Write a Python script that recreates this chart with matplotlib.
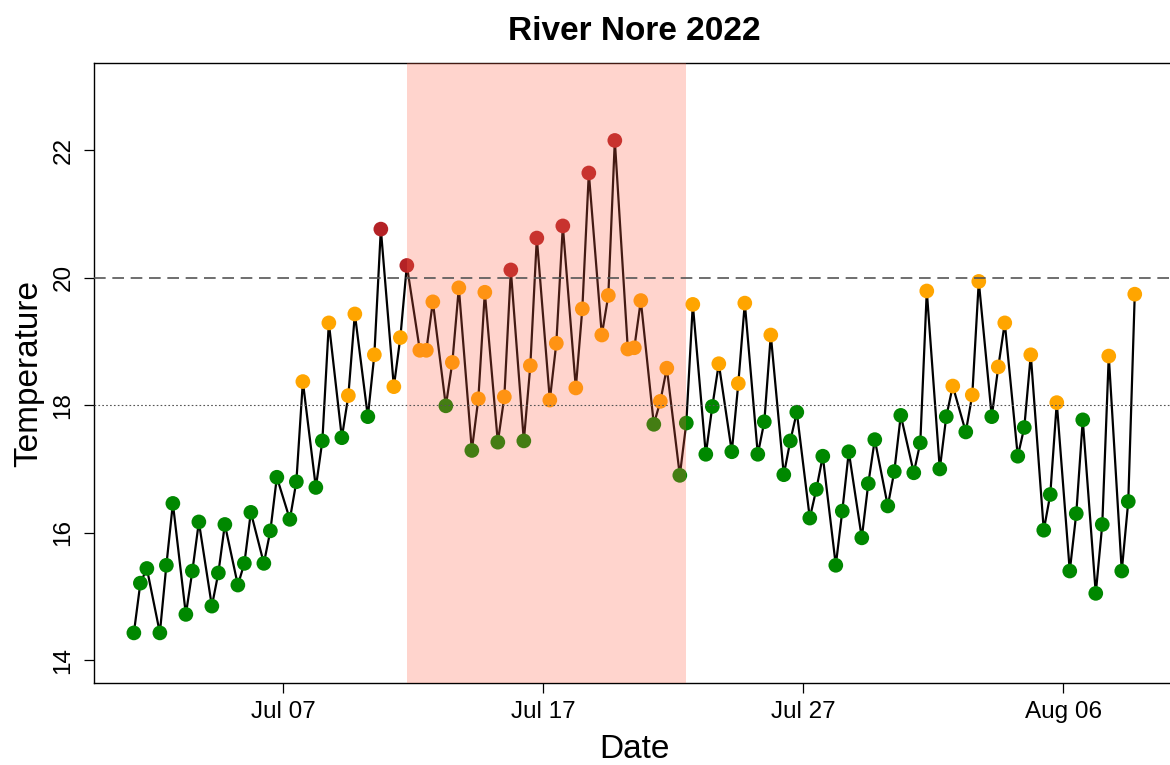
import numpy as np
import matplotlib
matplotlib.use("Agg")
import matplotlib.pyplot as plt
import matplotlib.dates as mdates

plt.rcParams['font.family'] = ['Liberation Sans', 'DejaVu Sans']

# three readings a day (06:00, 12:00, 18:00), 1 Jul - 8 Aug 2022
first_day = '2022-07-01'
last_day = '2022-08-09'
read_hours = [6, 12, 18]

temps = [
    14.43, 15.21, 15.44,  14.43, 15.49, 16.46,  14.72, 15.40, 16.17,
    14.85, 15.37, 16.13,  15.18, 15.52, 16.32,  15.52, 16.03, 16.87,
    16.21, 16.80, 18.37,  16.71, 17.44, 19.29,  17.49, 18.15, 19.43,
    17.82, 18.79, 20.76,  18.29, 19.06, 20.19,  18.86, 18.86, 19.62,
    17.99, 18.67, 19.84,  17.29, 18.10, 19.77,  17.42, 18.13, 20.12,
    17.44, 18.62, 20.62,  18.08, 18.97, 20.81,  18.27, 19.51, 21.64,
    19.10, 19.72, 22.15,  18.88, 18.90, 19.64,  17.70, 18.06, 18.58,
    16.90, 17.72, 19.58,  17.23, 17.98, 18.65,  17.27, 18.34, 19.60,
    17.23, 17.74, 19.10,  16.91, 17.44, 17.89,  16.23, 16.68, 17.20,
    15.49, 16.34, 17.27,  15.92, 16.77, 17.46,  16.42, 16.96, 17.84,
    16.94, 17.41, 19.79,  17.00, 17.82, 18.30,  17.58, 18.16, 19.94,
    17.82, 18.60, 19.29,  17.20, 17.65, 18.79,  16.04, 16.60, 18.04,
    15.40, 16.30, 17.77,  15.05, 16.13, 18.77,  15.40, 16.49, 19.74,
]

# heatwave window shaded on the plot
heat_start = '2022-07-11T18:00'
heat_end = '2022-07-22T12:00'

warn_level = 18
alert_level = 20
ylims = (14, 23)
xtick_days = ['2022-07-07', '2022-07-17', '2022-07-27', '2022-08-06']
ytick_vals = [14, 16, 18, 20, 22]

days = np.arange(first_day, last_day, dtype='datetime64[D]')
times = (days[:, None] + np.array(read_hours, dtype='timedelta64[h]')).ravel()
times = times.astype('datetime64[m]').astype(object)
temps = np.array(temps)

cols = np.where(temps > alert_level, '#B42226',
                np.where(temps >= warn_level, '#FFA500', '#008800'))

fig = plt.figure(figsize=(11.7, 7.65), dpi=100)
ax = fig.add_axes([0.0802, 0.1068, 0.9239, 0.8105])

ax.plot(times, temps, color='black', lw=1.6, zorder=2)
ax.scatter(times, temps, c=cols, s=112, linewidths=0, zorder=3)

ax.axvspan(np.datetime64(heat_start).astype(object), np.datetime64(heat_end).astype(object),
           color='#FF6347', alpha=0.27, lw=0, zorder=4)

ax.axhline(alert_level, color='#555555', lw=1.2, ls=(0, (7, 4)), zorder=5)
ax.axhline(warn_level, color='#555555', lw=0.8, ls=(0, (1.5, 2)), zorder=5)

# R-style 4% padding on both axes
t0 = mdates.date2num(times[0])
t1 = mdates.date2num(times[-1])
pad = 0.04 * (t1 - t0)
ax.set_xlim(t0 - pad, t1 + pad)
ypad = 0.04 * (ylims[1] - ylims[0])
ax.set_ylim(ylims[0] - ypad, ylims[1] + ypad)

ax.set_xticks([mdates.datestr2num(d) for d in xtick_days])
ax.xaxis.set_major_formatter(mdates.DateFormatter('%b %d'))
ax.set_yticks(ytick_vals)
ax.tick_params(axis='x', labelsize=17.5, length=7, width=0.9, pad=6)
ax.tick_params(axis='y', labelsize=17.5, length=7, width=0.9, pad=7)
for lab in ax.get_yticklabels():
    lab.set_rotation(90)
    lab.set_va('center')

for sp in ax.spines.values():
    sp.set_linewidth(1.0)

ax.set_xlabel('Date', fontsize=24, labelpad=8)
ax.set_ylabel('Temperature', fontsize=24, labelpad=6)
ax.set_title('River Nore 2022', fontsize=24, fontweight='bold', pad=17)

fig.savefig('out.png', dpi=100)
